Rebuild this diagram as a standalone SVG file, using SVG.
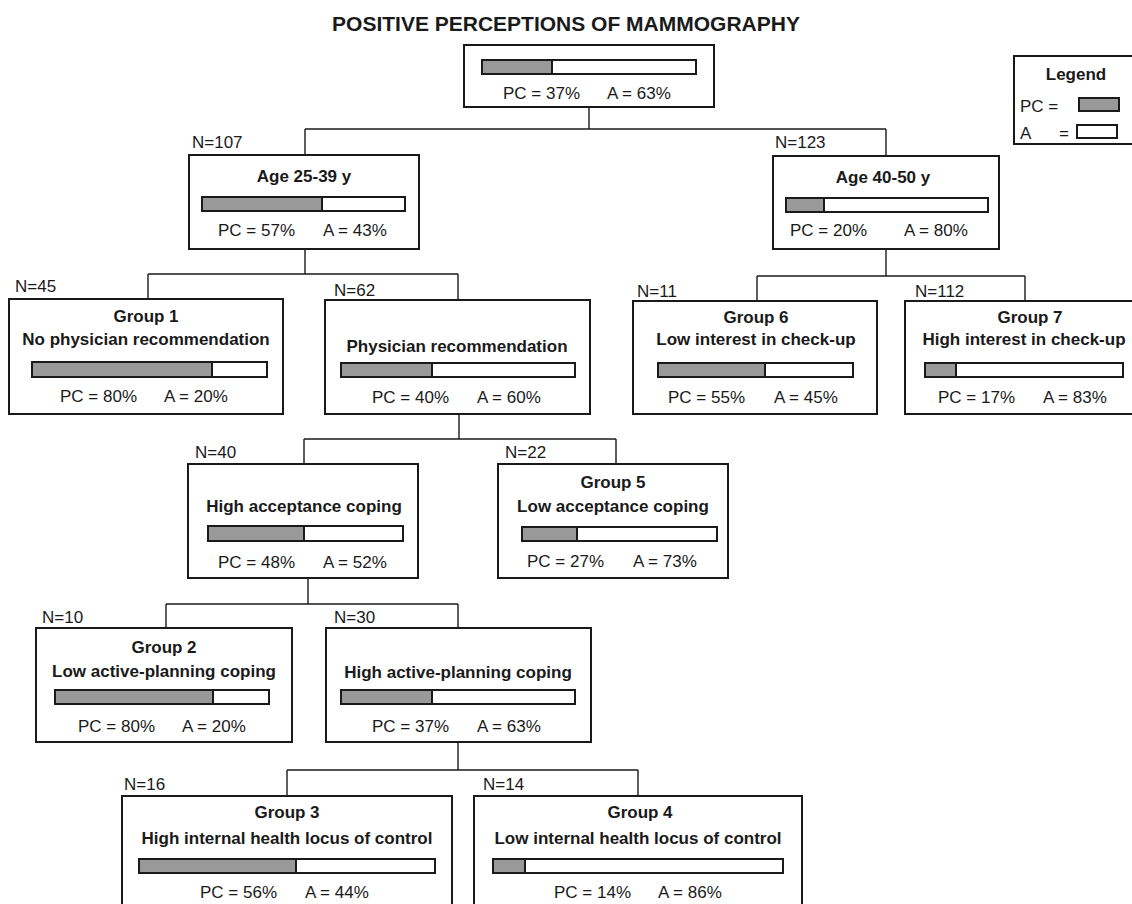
<svg xmlns="http://www.w3.org/2000/svg" width="1132" height="904" viewBox="0 0 1132 904">
<style>
text{font-family:"Liberation Sans",Arial,sans-serif;font-size:17px;fill:#1a1a1a}
.b{font-weight:bold}
.c{text-anchor:middle}
.t{font-size:21px}
.box{fill:#fff;stroke:#1a1a1a;stroke-width:2}
.bar{fill:#fff;stroke:#1a1a1a;stroke-width:2}
.pc{fill:#999;stroke:#1a1a1a;stroke-width:2}
.ln{fill:none;stroke:#1a1a1a;stroke-width:1.4}
</style>
<rect width="1132" height="904" fill="#fff"/>
<text class="b c t" x="566" y="31">POSITIVE PERCEPTIONS OF MAMMOGRAPHY</text>

<g id="connectors">
<path class="ln" d="M589,107V129M305,129H886M305,129V155M886,129V156"/>
<path class="ln" d="M305,249V274M148,274H458M148,274V299M458,274V300"/>
<path class="ln" d="M886,249V276M757,276H1025M757,276V301M1025,276V301"/>
<path class="ln" d="M459,414V439M304,439H616M304,439V464M616,439V464"/>
<path class="ln" d="M308,578V604M166,604H458M166,604V628M458,604V628"/>
<path class="ln" d="M458,742V770M287,770H638M287,770V796M638,770V796"/>
</g>

<g id="legend">
<rect class="box" x="1014" y="56" width="130" height="88"/>
<text class="b c" x="1076" y="80">Legend</text>
<text x="1020" y="112">PC =</text>
<rect class="pc" x="1079" y="98" width="40" height="13"/>
<text x="1020" y="139">A</text>
<text x="1059" y="139">=</text>
<rect class="bar" x="1077" y="125" width="40" height="13"/>
</g>

<g id="root">
<rect class="box" x="464" y="45" width="250" height="62"/>
<rect class="bar" x="482" y="60" width="214" height="14"/>
<rect class="pc" x="482" y="60" width="70" height="14"/>
<text x="503" y="99">PC = 37%</text>
<text x="607" y="99">A = 63%</text>
</g>

<g id="age2539">
<text x="192" y="148">N=107</text>
<rect class="box" x="189" y="155" width="230" height="94"/>
<text class="b c" x="304" y="182">Age 25-39 y</text>
<rect class="bar" x="202" y="197" width="203" height="14"/>
<rect class="pc" x="202" y="197" width="120" height="14"/>
<text x="218" y="236">PC = 57%</text>
<text x="323" y="236">A = 43%</text>
</g>

<g id="age4050">
<text x="775" y="148">N=123</text>
<rect class="box" x="773" y="156" width="226" height="93"/>
<text class="b c" x="883" y="183">Age 40-50 y</text>
<rect class="bar" x="786" y="198" width="202" height="14"/>
<rect class="pc" x="786" y="198" width="38" height="14"/>
<text x="790" y="236">PC = 20%</text>
<text x="904" y="236">A = 80%</text>
</g>

<g id="group1">
<text x="15" y="292">N=45</text>
<rect class="box" x="9" y="299" width="274" height="115"/>
<text class="b c" x="146" y="322">Group 1</text>
<text class="b c" x="146" y="345">No physician recommendation</text>
<rect class="bar" x="32" y="362" width="235" height="15"/>
<rect class="pc" x="32" y="362" width="180" height="15"/>
<text x="60" y="402">PC = 80%</text>
<text x="164" y="402">A = 20%</text>
</g>

<g id="physician">
<text x="334" y="296">N=62</text>
<rect class="box" x="325" y="300" width="265" height="114"/>
<text class="b c" x="457" y="352">Physician recommendation</text>
<rect class="bar" x="341" y="363" width="234" height="14"/>
<rect class="pc" x="341" y="363" width="91" height="14"/>
<text x="372" y="403">PC = 40%</text>
<text x="477" y="403">A = 60%</text>
</g>

<g id="group6">
<text x="637" y="297">N=11</text>
<rect class="box" x="633" y="301" width="244" height="113"/>
<text class="b c" x="756" y="323">Group 6</text>
<text class="b c" x="756" y="345">Low interest in check-up</text>
<rect class="bar" x="658" y="363" width="195" height="14"/>
<rect class="pc" x="658" y="363" width="107" height="14"/>
<text x="668" y="403">PC = 55%</text>
<text x="774" y="403">A = 45%</text>
</g>

<g id="group7">
<text x="915" y="297">N=112</text>
<rect class="box" x="905" y="301" width="250" height="113"/>
<text class="b c" x="1030" y="323">Group 7</text>
<text class="b c" x="1024" y="345">High interest in check-up</text>
<rect class="bar" x="925" y="363" width="198" height="14"/>
<rect class="pc" x="925" y="363" width="31" height="14"/>
<text x="938" y="403">PC = 17%</text>
<text x="1043" y="403">A = 83%</text>
</g>

<g id="highacceptance">
<text x="195" y="458">N=40</text>
<rect class="box" x="188" y="464" width="230" height="114"/>
<text class="b c" x="304" y="512">High acceptance coping</text>
<rect class="bar" x="208" y="526" width="195" height="15"/>
<rect class="pc" x="208" y="526" width="96" height="15"/>
<text x="218" y="568">PC = 48%</text>
<text x="323" y="568">A = 52%</text>
</g>

<g id="group5">
<text x="505" y="458">N=22</text>
<rect class="box" x="498" y="464" width="230" height="114"/>
<text class="b c" x="613" y="488">Group 5</text>
<text class="b c" x="613" y="512">Low acceptance coping</text>
<rect class="bar" x="522" y="527" width="195" height="14"/>
<rect class="pc" x="522" y="527" width="55" height="14"/>
<text x="527" y="567">PC = 27%</text>
<text x="633" y="567">A = 73%</text>
</g>

<g id="group2">
<text x="42" y="623">N=10</text>
<rect class="box" x="36" y="628" width="256" height="114"/>
<text class="b c" x="164" y="653">Group 2</text>
<text class="b c" x="164" y="677">Low active-planning coping</text>
<rect class="bar" x="55" y="690" width="214" height="14"/>
<rect class="pc" x="55" y="690" width="158" height="14"/>
<text x="78" y="732">PC = 80%</text>
<text x="182" y="732">A = 20%</text>
</g>

<g id="highactive">
<text x="334" y="623">N=30</text>
<rect class="box" x="326" y="628" width="265" height="114"/>
<text class="b c" x="458" y="678">High active-planning coping</text>
<rect class="bar" x="341" y="690" width="234" height="14"/>
<rect class="pc" x="341" y="690" width="91" height="14"/>
<text x="372" y="732">PC = 37%</text>
<text x="477" y="732">A = 63%</text>
</g>

<g id="group3">
<text x="124" y="790">N=16</text>
<rect class="box" x="122" y="796" width="330" height="130"/>
<text class="b c" x="287" y="818">Group 3</text>
<text class="b c" x="287" y="844">High internal health locus of control</text>
<rect class="bar" x="139" y="859" width="296" height="14"/>
<rect class="pc" x="139" y="859" width="157" height="14"/>
<text x="200" y="898">PC = 56%</text>
<text x="305" y="898">A = 44%</text>
</g>

<g id="group4">
<text x="483" y="790">N=14</text>
<rect class="box" x="474" y="796" width="328" height="130"/>
<text class="b c" x="640" y="818">Group 4</text>
<text class="b c" x="638" y="844">Low internal health locus of control</text>
<rect class="bar" x="493" y="859" width="290" height="14"/>
<rect class="pc" x="493" y="859" width="32" height="14"/>
<text x="554" y="898">PC = 14%</text>
<text x="658" y="898">A = 86%</text>
</g>
</svg>
